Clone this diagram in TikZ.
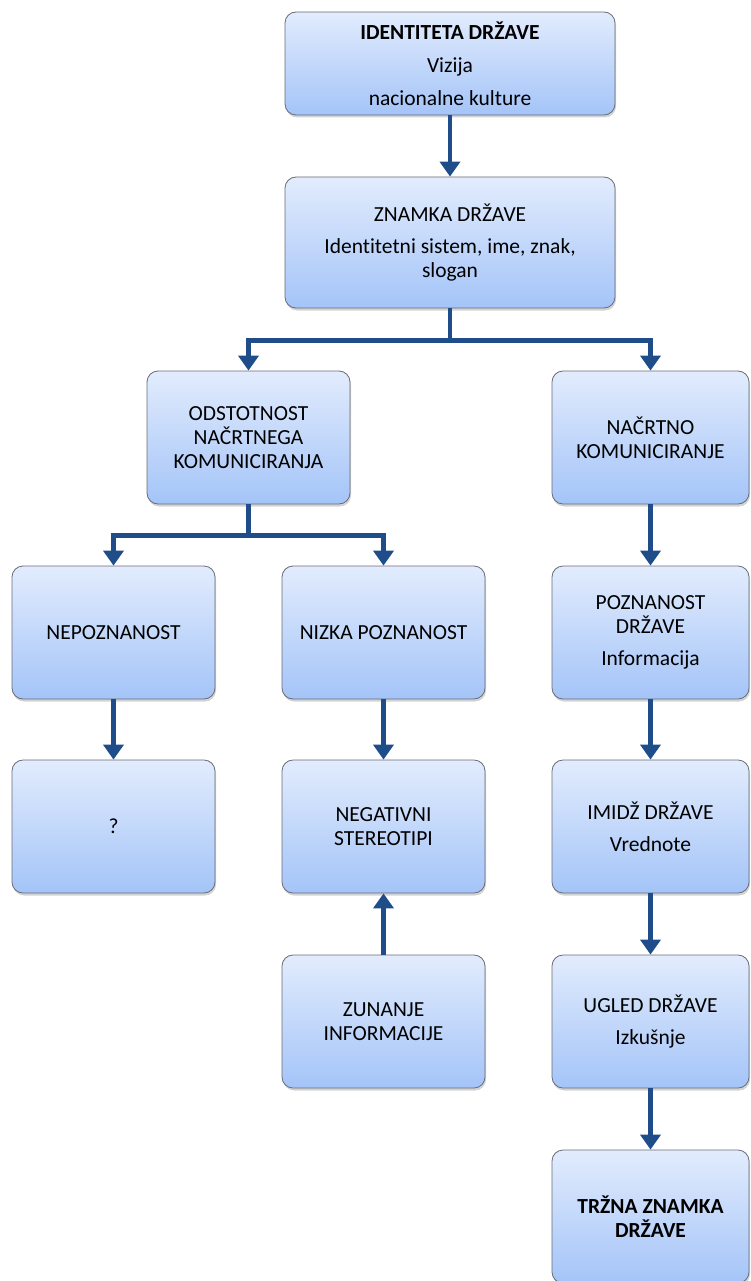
\documentclass[tikz,border=0pt]{standalone}
\usepackage{fontspec}
\setmainfont[Ligatures=NoCommon]{Carlito}
\usetikzlibrary{arrows.meta,shadows}
\definecolor{boxtop}{RGB}{226,236,253}
\definecolor{boxbot}{RGB}{164,196,248}
\definecolor{boxline}{RGB}{105,108,118}
\definecolor{arrblue}{RGB}{31,77,138}
\tikzset{
    box/.style={draw=boxline, line width=0.8pt, rounded corners=11pt,
        top color=boxtop, bottom color=boxbot,
        drop shadow={opacity=0.35, shadow xshift=1pt, shadow yshift=-2.5pt},
        minimum width=203pt, minimum height=133pt, align=center,
        font=\fontsize{21.5}{24}\selectfont, inner sep=2pt},
    wide/.style={box, minimum width=330pt},
    rbox/.style={box, minimum width=197pt},
    arr/.style={draw=arrblue, line width=4.5pt,
        -{Triangle[width=20pt,length=15pt]}},
}

\begin{document}
\begin{tikzpicture}[x=1pt,y=-1pt]
\useasboundingbox (0,0) rectangle (750,1281);
\begin{scope}
    % Define nodes
    \node[wide, minimum height=103pt] (ID) at (450,63.5)
        {\textbf{IDENTITETA DRŽAVE}\\[9pt] Vizija\\[9pt] nacionalne kulture};
    \node[wide, minimum height=131pt] (ZN) at (450,242.5)
        {ZNAMKA DRŽAVE\\[8pt] Identitetni sistem, ime, znak,\\ slogan};
    \node[box] (OD) at (248.5,437.5) {ODSTOTNOST\\ NAČRTNEGA\\ KOMUNICIRANJA};
    \node[rbox] (NA) at (650.5,437.5) {NAČRTNO\\ KOMUNICIRANJE};
    \node[box] (NP) at (113.5,632.5) {NEPOZNANOST};
    \node[box] (NZ) at (383.5,632.5) {NIZKA POZNANOST};
    \node[rbox] (PO) at (650.5,632.5) {POZNANOST\\ DRŽAVE\\[8pt] Informacija};
    \node[box] (QU) at (113.5,826.5) {?};
    \node[box] (NS) at (383.5,826.5) {NEGATIVNI\\ STEREOTIPI};
    \node[rbox] (IM) at (650.5,826.5) {IMIDŽ DRŽAVE\\[8pt] Vrednote};
    \node[box] (ZU) at (383.5,1021.5) {ZUNANJE\\ INFORMACIJE};
    \node[rbox] (UG) at (650.5,1021.5) {UGLED DRŽAVE\\[8pt] Izkušnje};
    \node[rbox] (TR) at (650.5,1216.5) {\textbf{TRŽNA ZNAMKA}\\ \textbf{DRŽAVE}};

    % Connectors
    \draw[arr] (ID) -- (ZN);
    \draw[arr] (ZN.south) -- ++(0,32) -| (OD.north);
    \draw[arr] (ZN.south) -- ++(0,32) -| (NA.north);
    \draw[arr] (OD.south) -- ++(0,31) -| (NP.north);
    \draw[arr] (OD.south) -- ++(0,31) -| (NZ.north);
    \draw[arr] (NP) -- (QU);
    \draw[arr] (NZ) -- (NS);
    \draw[arr] (ZU) -- (NS);
    \draw[arr] (NA) -- (PO);
    \draw[arr] (PO) -- (IM);
    \draw[arr] (IM) -- (UG);
    \draw[arr] (UG) -- (TR);
\end{scope}
\end{tikzpicture}
\end{document}
